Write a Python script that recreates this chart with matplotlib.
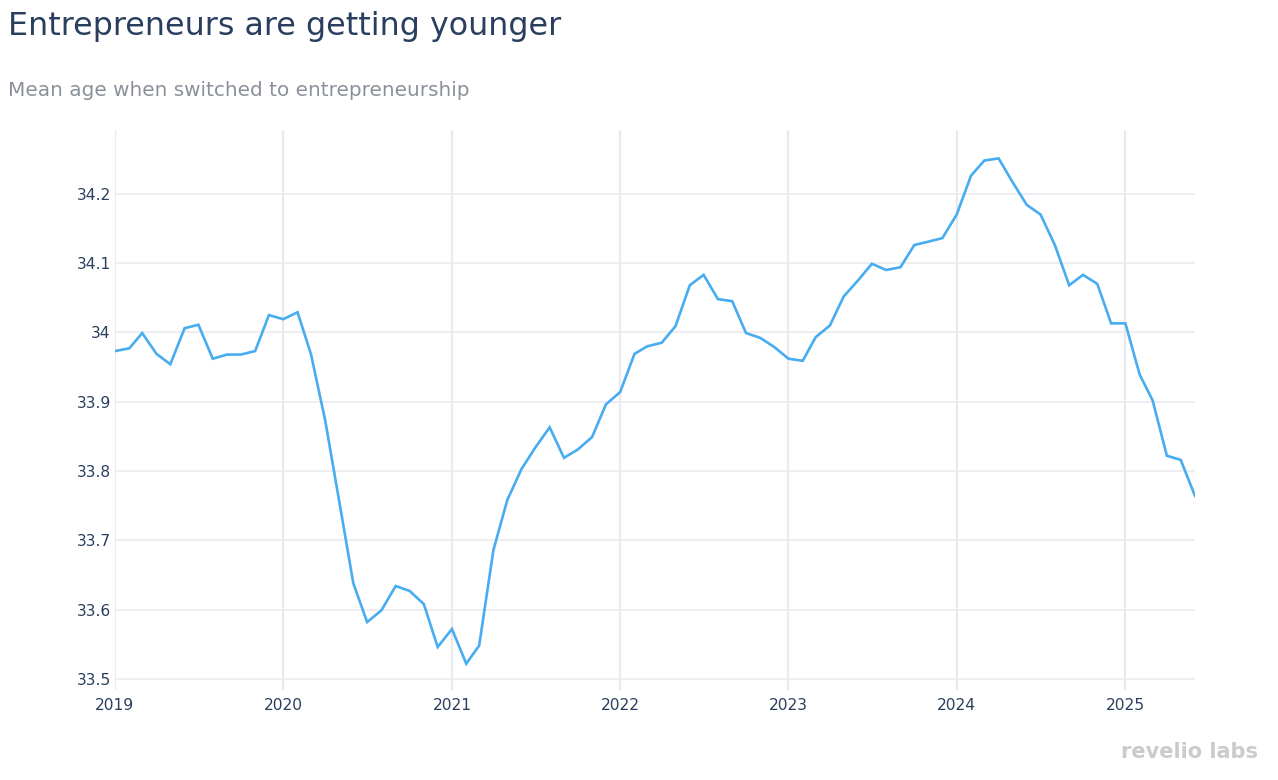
import numpy as np
import pandas as pd
import matplotlib
matplotlib.use("Agg")
import matplotlib.pyplot as plt
import matplotlib.dates as mdates

# monthly mean age when switching to entrepreneurship, Jan 2019 - Jun 2025
months = pd.date_range("2019-01-01", periods=78, freq="MS")
mean_age = [
    33.973, 33.977, 33.999, 33.969, 33.954, 34.006, 34.011, 33.962, 33.968, 33.968, 33.973, 34.025,
    34.019, 34.029, 33.969, 33.873, 33.758, 33.638, 33.582, 33.599, 33.634, 33.627, 33.608, 33.546,
    33.572, 33.522, 33.548, 33.686, 33.758, 33.803, 33.834, 33.863, 33.819, 33.831, 33.849, 33.896,
    33.914, 33.969, 33.980, 33.985, 34.009, 34.068, 34.083, 34.048, 34.045, 33.999, 33.992, 33.979,
    33.962, 33.959, 33.993, 34.010, 34.052, 34.075, 34.099, 34.090, 34.094, 34.126, 34.131, 34.136,
    34.170, 34.226, 34.248, 34.251, 34.217, 34.184, 34.170, 34.126, 34.068, 34.083, 34.070, 34.013,
    34.013, 33.939, 33.902, 33.822, 33.816, 33.764,
]
y_ticks = [33.5, 33.6, 33.7, 33.8, 33.9, 34.0, 34.1, 34.2]
y_tick_labels = ["33.5", "33.6", "33.7", "33.8", "33.9", "34", "34.1", "34.2"]

title = "Entrepreneurs are getting younger"
subtitle = "Mean age when switched to entrepreneurship"

text_col = "#2a3f5f"
grid_col = "#e9e9ef"
line_col = "#47acf0"

plt.rcParams["font.family"] = ["DejaVu Sans"]

fig = plt.figure(figsize=(12.78, 7.8), dpi=100)
ax = fig.add_axes([115 / 1278, 1 - 690 / 780, (1195 - 115) / 1278, (690 - 130) / 780])

ax.plot(months, mean_age, color=line_col, lw=1.9, solid_joinstyle="miter", clip_on=True)

ax.set_xlim(months[0], months[-1])
ax.set_ylim(33.484, 34.292)

ax.set_yticks(y_ticks)
ax.set_yticklabels(y_tick_labels)
ax.xaxis.set_major_locator(mdates.YearLocator())
ax.xaxis.set_major_formatter(mdates.DateFormatter("%Y"))

ax.tick_params(axis="both", length=0, labelsize=11.2, labelcolor=text_col)
ax.tick_params(axis="y", pad=3)
ax.tick_params(axis="x", pad=6)

ax.grid(True, axis="y", color=grid_col, lw=1.1)
ax.grid(True, axis="x", color=grid_col, lw=1.6)
ax.set_axisbelow(True)
for s in ax.spines.values():
    s.set_visible(False)

fig.text(8 / 1278, 1 - 27 / 780, title, fontsize=22.9, color=text_col, va="center", ha="left")
fig.text(8 / 1278, 1 - 90 / 780, subtitle, fontsize=14.4, color="#8a9099", va="center", ha="left")
fig.text(1258 / 1278, 1 - 752 / 780, "revelio labs", fontsize=15, color="#cbcbce",
         fontweight="bold", va="center", ha="right")

fig.savefig("out.png", dpi=100, facecolor="white")
